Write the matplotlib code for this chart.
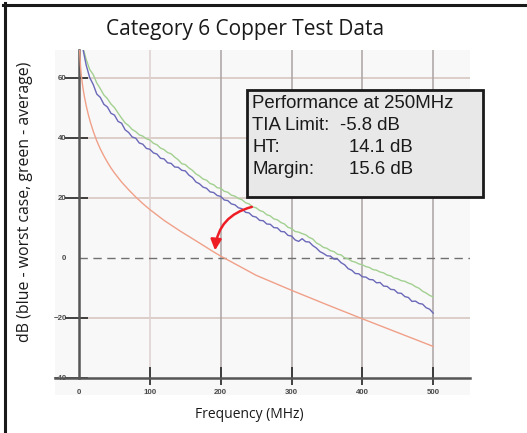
import matplotlib
matplotlib.use('Agg')
import matplotlib.pyplot as plt
from matplotlib.lines import Line2D
from matplotlib.patches import Rectangle

# frekvence (MHz) a hodnoty (dB)
freq = [1] + list(range(5, 505, 5))

blue_worst = [73.0, 70.2, 64.3, 60.1, 57.8, 54.6, 53.5, 51.2, 50.3, 48.2, 47.6,
              45.5, 44.9, 42.7, 41.8, 40.3, 39.9, 38.3, 37.9, 36.5, 36.2,
              35.0, 34.6, 33.2, 33.0, 31.7, 31.5, 30.3, 30.2, 29.2, 29.0,
              27.6, 26.8, 25.3, 24.7, 23.6, 23.2, 22.0, 21.8, 20.8, 20.5,
              19.3, 19.1, 18.0, 17.7, 16.7, 16.4, 15.2, 15.0, 13.9, 13.6,
              12.5, 12.4, 11.3, 11.2, 10.1, 10.0, 8.8, 8.7, 7.5, 7.3,
              6.0, 5.5, 6.4, 5.4, 5.3, 4.1, 3.3, 2.1, 1.5, 0.7,
              0.6, -0.4, -0.4, -1.6, -2.3, -3.6, -4.1, -5.2, -5.3, -6.3,
              -6.4, -7.2, -7.3, -8.3, -8.2, -9.4, -9.5, -10.5, -10.6, -11.7,
              -11.8, -12.9, -13.2, -14.5, -14.4, -15.2, -15.4, -16.6, -17.1, -18.4]

green_avg = [73.5, 70.5, 66.2, 62.8, 61.1, 58.3, 56.4, 54.3, 53.1, 51.3, 50.1,
             48.3, 46.6, 45.0, 44.1, 42.8, 42.1, 41.0, 40.6, 39.7, 39.3,
             38.2, 37.7, 36.6, 36.1, 35.1, 34.7, 33.6, 32.7, 31.4, 31.1,
             30.0, 29.2, 28.0, 27.3, 26.3, 25.9, 24.8, 24.4, 23.4, 23.2,
             22.2, 21.9, 20.9, 20.6, 19.8, 19.4, 18.4, 18.0, 17.0, 16.7,
             15.8, 15.4, 14.4, 14.0, 13.0, 12.7, 11.8, 11.3, 10.2, 9.8,
             8.8, 8.6, 8.1, 7.7, 6.8, 6.3, 5.0, 4.4, 3.5, 3.2,
             2.4, 2.1, 1.2, 1.0, 0.0, -0.3, -1.1, -1.4, -2.0, -2.3,
             -2.9, -3.2, -3.9, -4.1, -4.7, -5.0, -5.7, -6.0, -6.7, -7.0,
             -7.6, -7.8, -8.4, -8.8, -9.6, -10.1, -11.1, -11.7, -12.5, -13.0]

tia_freq = [0.5, 1, 2, 3, 5, 7, 10, 13, 16, 20, 25, 30, 35, 40, 45, 50, 60, 70,
            80, 90, 100, 120, 143, 165, 190, 200, 225, 250, 275, 300, 350, 400,
            450, 500]
tia_limit = [72, 68.5, 64, 61.2, 57.4, 54.4, 50.8, 47.8, 45.2, 42.2, 39.0,
             36.3, 34.0, 31.9, 30.0, 28.3, 25.3, 22.7, 20.3, 18.1, 16.1,
             12.5, 8.9, 5.7, 2.0, 0.6, -2.6, -5.8, -8.3, -10.8, -15.6, -20.3,
             -24.9, -29.5]

x_ticks = [0, 100, 200, 300, 400, 500]
y_ticks = [60, 40, 20, 0, -20, -40]
y_grid = [60, 40, 20, -20]
y_marks = [60, 40, 20, -20, -40]
x_marks = [100, 200, 300, 400, 500]

box_rows = [('Performance at 250MHz', ''),
            ('TIA Limit:', '-5.8 dB'),
            ('HT:', '14.1 dB'),
            ('Margin:', '15.6 dB')]

W, H = 527, 433


def px(x, y):
    """pixel -> figure fraction"""
    return x / W, 1 - y / H


fig = plt.figure(figsize=(W / 100, H / 100), dpi=100)
fig.patch.set_facecolor('white')

ax = fig.add_axes([55 / W, 1 - 395 / H, 415 / W, 345 / H])
ax.set_facecolor('#f8f8f8')
ax.set_xlim(-34, 552)
ax.set_ylim(-45.7, 69.3)

# mrizka
ax.hlines(y_grid, 0, 552, color='#d9cbc4', lw=1.3, zorder=1)
for xv in x_marks:
    c = '#ddd0d0' if xv == 100 else '#aaa2a2'
    ax.plot([xv, xv], [-40, 69.3], color=c, lw=1.1, zorder=1)
ax.hlines(0, 0, 552, color='#707070', lw=1.0, ls=(0, (6, 4)), zorder=1)

# osy
for s in ['top', 'right']:
    ax.spines[s].set_visible(False)
ax.spines['left'].set_position(('data', 0))
ax.spines['bottom'].set_position(('data', -40))
ax.spines['left'].set_bounds(-40, 69.3)
for s in ['left', 'bottom']:
    ax.spines[s].set_color('#555555')
    ax.spines[s].set_linewidth(1.8)
    ax.spines[s].set_zorder(3)

ax.set_xticks(x_ticks)
ax.set_yticks(y_ticks)
ax.tick_params(length=0, labelsize=5.7, labelcolor='#4a4a4a')
ax.tick_params(axis='y', pad=9)
ax.tick_params(axis='x', pad=8)
for lab in ax.get_xticklabels() + ax.get_yticklabels():
    lab.set_fontfamily('Liberation Sans')
    lab.set_fontweight('bold')

# znacky tiku
ax.hlines(y_marks, -20, 13, color='#333333', lw=1.3, zorder=3)
ax.vlines(x_marks, -42.3, -36.3, color='#333333', lw=1.3, zorder=3)

# krivky
ax.plot(tia_freq, tia_limit, color='#f0a088', lw=1.0, zorder=4)
ax.plot(freq, green_avg, color='#a2d090', lw=1.0, zorder=4)
ax.plot(freq, blue_worst, color='#6a68b8', lw=1.0, zorder=5)

# sipka
ax.annotate('', xy=(192, 2.5), xytext=(244, 17),
            arrowprops=dict(arrowstyle='-|>', color='#ee1c25', lw=1.8,
                            mutation_scale=16, shrinkA=0, shrinkB=0,
                            connectionstyle='arc3,rad=0.35'),
            zorder=6)

# texty
fig.text(*px(245, 30), 'Category 6 Copper Test Data', ha='center', va='center',
         fontsize=15, family='Open Sans', color='#1a1a1a')
fig.text(*px(249, 414), 'Frequency (MHz)', ha='center', va='center',
         fontsize=10, family='Open Sans', color='#1a1a1a')
fig.text(*px(25, 202), 'dB (blue - worst case, green - average)', ha='center',
         va='center', rotation=90, fontsize=11.4, family='Open Sans', color='#1a1a1a')

# box s vysledky
x0, y0 = px(247, 197)
fig.add_artist(Rectangle((x0, y0), 236 / W, 107 / H, transform=fig.transFigure,
                         facecolor='#e8e8e8', edgecolor='#1a1a1a', lw=2, zorder=10))
for i, (k, v) in enumerate(box_rows):
    yy = 103 + 22 * i
    fig.text(*px(252, yy), k, ha='left', va='center', fontsize=13.4,
             family='Liberation Sans', color='#1a1a1a', zorder=11)
    if v:
        xv = 340 if v.startswith('-') else 349
        fig.text(*px(xv, yy), v, ha='left', va='center', fontsize=13.4,
                 family='Liberation Sans', color='#1a1a1a', zorder=11)

# ramecek
fig.add_artist(Line2D([3 / W, 1], [1 - 4.5 / H] * 2, transform=fig.transFigure,
                      color='#1a1a1a', lw=2.2))
fig.add_artist(Line2D([4.5 / W] * 2, [0, 1 - 3 / H], transform=fig.transFigure,
                      color='#1a1a1a', lw=2.2))

fig.savefig('out.png', dpi=100)
